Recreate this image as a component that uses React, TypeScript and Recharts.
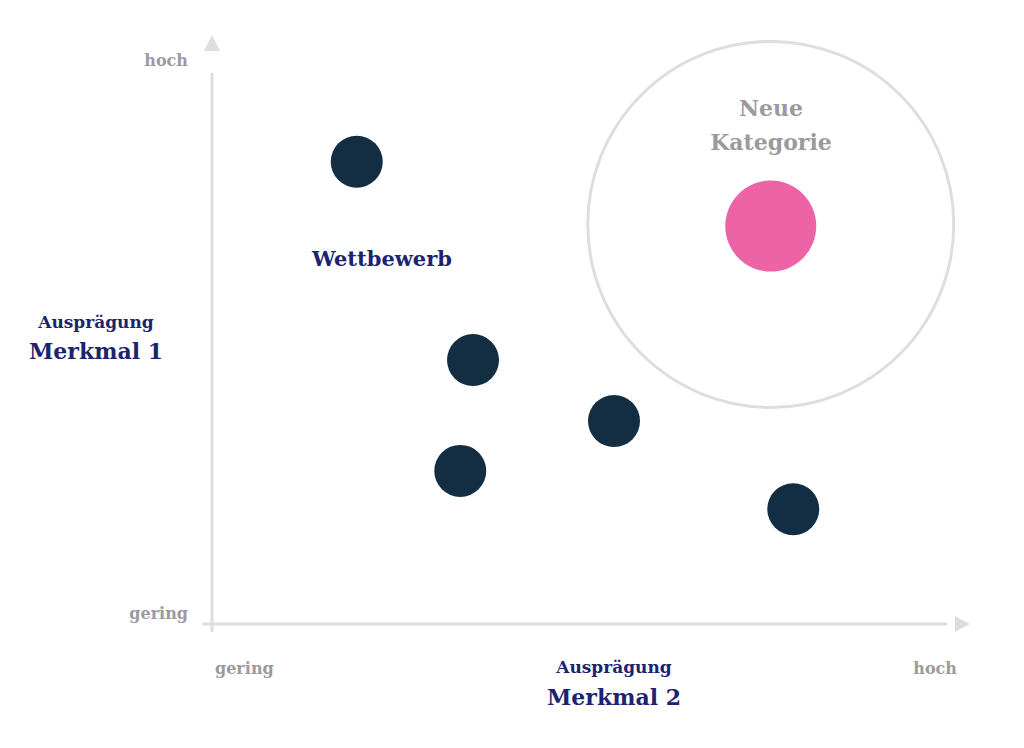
import React from 'react';
import {
  ScatterChart, Scatter, XAxis, YAxis, ReferenceDot, ReferenceLine,
} from 'recharts';

// Wettbewerber (Merkmal 2, Merkmal 1)
const competitorX = [19.3, 34.8, 53.6, 33.1, 77.5];
const competitorY = [79.7, 45.5, 35.0, 26.4, 19.8];

// Neue Kategorie
const newCategoryX = [74.5];
const newCategoryY = [68.6];

const axisTicks = [0, 100];
const axisTickLabels = ['gering', 'hoch'];

const competitors = competitorX.map((x, i) => ({ x, y: competitorY[i] }));
const newCategory = newCategoryX.map((x, i) => ({ x, y: newCategoryY[i] }));

const NAVY = '#1c2470';
const GREY = '#9b9aa0';
const LINE = '#dedede';
const FONT = '"DejaVu Serif", serif';

const XTick = (props: any) => {
  const { x, y, payload } = props;
  const first = payload.value === axisTicks[0];
  return (
    <text x={first ? x + 3 : x - 5} y={y + 42} textAnchor={first ? 'start' : 'end'}
      fill={GREY} fontFamily={FONT} fontWeight="bold" fontSize={16}>
      {axisTickLabels[axisTicks.indexOf(payload.value)]}
    </text>
  );
};

const YTick = (props: any) => {
  const { y, payload } = props;
  const first = payload.value === axisTicks[0];
  return (
    <text x={188} y={first ? y - 5 : y + 22} textAnchor="end"
      fill={GREY} fontFamily={FONT} fontWeight="bold" fontSize={16}>
      {axisTickLabels[axisTicks.indexOf(payload.value)]}
    </text>
  );
};

const upArrow = (p: any) => (
  <polygon points={`${p.cx},${p.cy - 9} ${p.cx - 8},${p.cy + 7} ${p.cx + 8},${p.cy + 7}`} fill={LINE} />
);
const rightArrow = (p: any) => (
  <polygon points={`${p.cx + 8},${p.cy} ${p.cx - 7},${p.cy - 8} ${p.cx - 7},${p.cy + 8}`} fill={LINE} />
);

export default function App() {
  return (
    <div style={{ position: 'absolute', left: 0, top: 0, background: '#fff' }}>
      <ScatterChart width={1024} height={748} margin={{ top: 44, right: 62, bottom: 0, left: 0 }}>
        <XAxis type="number" dataKey="x" domain={[0, 100]} ticks={axisTicks} height={124}
          axisLine={false} tickLine={false} tick={<XTick />} />
        <YAxis type="number" dataKey="y" domain={[0, 100]} ticks={axisTicks}
          axisLine={false} tickLine={false} tick={<YTick />} width={212} />

        <ReferenceLine segment={[{ x: -1.3, y: 0 }, { x: 98, y: 0 }]} stroke={LINE} strokeWidth={3} ifOverflow="visible" />
        <ReferenceLine segment={[{ x: 0, y: -1.4 }, { x: 0, y: 95 }]} stroke={LINE} strokeWidth={3} ifOverflow="visible" />
        <ReferenceDot x={0} y={100} r={8} shape={upArrow} ifOverflow="visible" />
        <ReferenceDot x={100} y={0} r={8} shape={rightArrow} ifOverflow="visible" />

        <ReferenceDot x={newCategoryX[0]} y={newCategoryY[0] + 0.3} r={183} fill="none"
          stroke={LINE} strokeWidth={3} ifOverflow="visible" />

        <Scatter data={competitors} isAnimationActive={false}
          shape={(p: any) => <circle cx={p.cx} cy={p.cy} r={26} fill="#132d42" />} />
        <Scatter data={newCategory} isAnimationActive={false}
          shape={(p: any) => <circle cx={p.cx} cy={p.cy} r={45.5} fill="#ec63a6" />} />

        <text x={382} y={266} textAnchor="middle" fill={NAVY} fontFamily={FONT} fontWeight="bold" fontSize={21}>Wettbewerb</text>
        <text x={771} y={116} textAnchor="middle" fill={GREY} fontFamily={FONT} fontWeight="bold" fontSize={22}>Neue</text>
        <text x={771} y={150} textAnchor="middle" fill={GREY} fontFamily={FONT} fontWeight="bold" fontSize={22}>Kategorie</text>

        <text x={96} y={328} textAnchor="middle" fill={NAVY} fontFamily={FONT} fontWeight="bold" fontSize={17}>Ausprägung</text>
        <text x={96} y={359} textAnchor="middle" fill={NAVY} fontFamily={FONT} fontWeight="bold" fontSize={22}>Merkmal 1</text>
        <text x={614} y={673} textAnchor="middle" fill={NAVY} fontFamily={FONT} fontWeight="bold" fontSize={17}>Ausprägung</text>
        <text x={614} y={705} textAnchor="middle" fill={NAVY} fontFamily={FONT} fontWeight="bold" fontSize={22}>Merkmal 2</text>
      </ScatterChart>
    </div>
  );
}
